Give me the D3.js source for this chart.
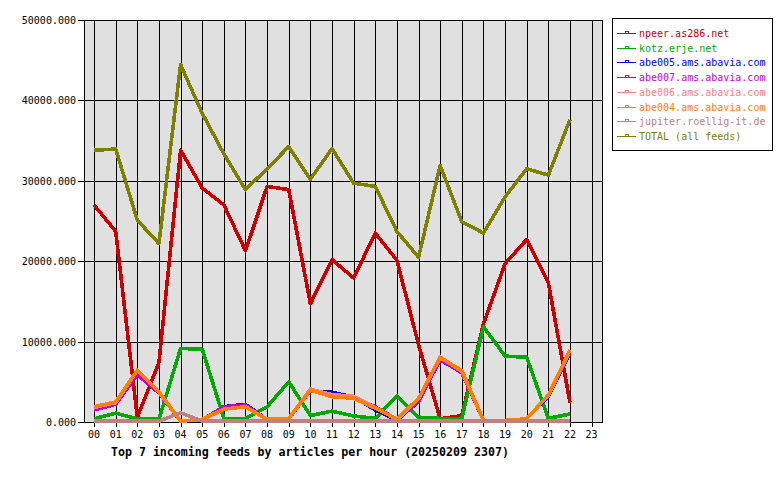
<!DOCTYPE html>
<html><head><meta charset="utf-8">
<script src="https://cdn.jsdelivr.net/npm/d3@7"></script>
<style>body{margin:0;background:#fff}svg{display:block}</style>
</head><body>
<svg id="c" width="780" height="480"></svg>
<script>
const hours = ["00","01","02","03","04","05","06","07","08","09","10","11","12","13","14","15","16","17","18","19","20","21","22","23"];
const yTicks = [0,10000,20000,30000,40000,50000];
const feedNames = ["npeer.as286.net","kotz.erje.net","abe005.ams.abavia.com","abe007.ams.abavia.com","abe006.ams.abavia.com","abe004.ams.abavia.com","jupiter.roellig-it.de","TOTAL (all feeds)"];
const feedColors = ["#cc0000","#00aa00","#0000ff","#cc00cc","#ff8080","#ff8000","#c08080","#808000"];
const npeer   = [27000,23700,600,7400,33800,29100,27000,21300,29300,28900,14700,20200,17900,23500,20100,9600,400,800,12200,19700,22700,17300,2400];
const kotz    = [400,1100,400,350,9150,9050,450,450,1900,5000,800,1350,750,450,3200,600,450,450,11850,8200,8050,450,1000];
const abe005  = [1700,2300,6300,3700,100,300,1900,2200,300,400,3900,3700,3100,1500,200,2700,7700,6200,200,200,400,3200,8600];
const abe007  = [1500,2200,5900,3600,100,300,1900,2100,300,400,3900,3400,3000,1900,300,2500,7800,6100,200,200,400,3300,8700];
const abe006  = [1800,2400,6400,3700,100,300,1600,1900,300,400,4100,3400,3200,1800,300,2900,8100,6300,200,200,400,3300,8900];
const abe004  = [1900,2500,6450,3750,100,330,1600,1900,330,460,3950,3150,2950,1700,370,2950,8000,6400,200,200,400,3350,8950];
const jupiter = [100,100,100,100,1150,100,100,100,100,100,100,100,100,100,100,100,100,100,100,100,100,100,100];
const total   = [33800,33950,25100,22200,44450,38400,33350,28900,31500,34250,30200,34000,29700,29300,23700,20500,31900,24900,23500,28000,31500,30700,37600];
const series = [npeer,kotz,abe005,abe007,abe006,abe004,jupiter,total];

const svg = d3.select("#c");
const L=84, R=602, T=20, B=422;
const x = d3.scaleLinear().domain([-0.465,23.48]).range([L,R]);
const y = d3.scaleLinear().domain([0,50000]).range([B,T]);

svg.append("rect").attr("x",L).attr("y",T).attr("width",R-L).attr("height",B-T).attr("fill","#e0e0e0");

const g = svg.append("g").attr("shape-rendering","crispEdges");
hours.forEach((h,i)=>{
  const xi = Math.round(x(i))+0.5;
  g.append("line").attr("x1",xi).attr("x2",xi).attr("y1",T).attr("y2",B+5).attr("stroke","#000");
  svg.append("text").attr("x",x(i)).attr("y",438).attr("text-anchor","middle")
    .attr("font-family","DejaVu Sans Mono").attr("font-size","10px").text(h);
});
yTicks.forEach(v=>{
  const yi = Math.round(y(v))+0.5;
  g.append("line").attr("x1",L-6).attr("x2",R).attr("y1",yi).attr("y2",yi).attr("stroke","#000");
  svg.append("text").attr("x",76).attr("y",y(v)+4).attr("text-anchor","end")
    .attr("font-family","DejaVu Sans Mono").attr("font-size","10px").text(d3.format(".3f")(v));
});
g.append("rect").attr("x",L+0.5).attr("y",T+0.5).attr("width",R-L).attr("height",B-T).attr("fill","none").attr("stroke","#000");

const line = d3.line().x((d,i)=>x(i)).y(d=>y(d));
series.forEach((s,k)=>{
  svg.append("path").attr("d",line(s)).attr("fill","none").attr("stroke",feedColors[k])
    .attr("stroke-width",3.6).attr("stroke-linejoin","round").attr("shape-rendering","crispEdges");
});

// legend
const lg = svg.append("g");
lg.append("rect").attr("x",612.5).attr("y",18.5).attr("width",160).attr("height",132)
  .attr("fill","#fff").attr("stroke","#000").attr("shape-rendering","crispEdges");
feedNames.forEach((n,k)=>{
  const yy = 33 + k*14.7;
  const yl = Math.round(yy)+0.5;
  lg.append("line").attr("x1",617).attr("x2",636).attr("y1",yl).attr("y2",yl).attr("stroke",feedColors[k]).attr("shape-rendering","crispEdges");
  lg.append("rect").attr("x",625.5).attr("y",yl-2).attr("width",3).attr("height",2).attr("fill","none").attr("stroke",feedColors[k]).attr("shape-rendering","crispEdges");
  lg.append("text").attr("x",639).attr("y",yy+4).attr("fill",feedColors[k])
    .attr("font-family","DejaVu Sans Mono").attr("font-size","10px").text(n);
});

svg.append("text").attr("x",111).attr("y",456).attr("font-family","DejaVu Sans Mono")
  .attr("font-weight","bold").attr("font-size","11.6px").text("Top 7 incoming feeds by articles per hour (20250209 2307)");
</script>
</body></html>
